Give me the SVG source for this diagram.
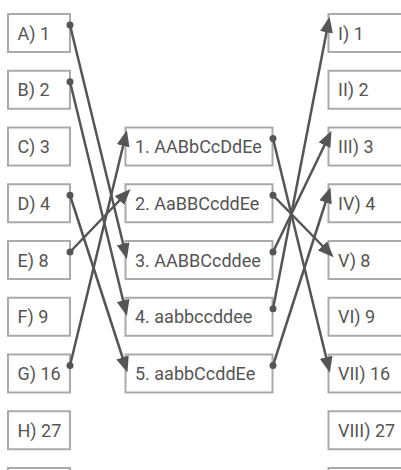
<svg xmlns="http://www.w3.org/2000/svg" width="401" height="470" viewBox="0 0 401 470">
<style>
.box{fill:#fff;stroke:#aaa;stroke-width:2}
.lbl{font-family:Roboto,"Liberation Sans",sans-serif;font-size:18px;fill:#555}
.con{stroke:#555;stroke-width:2.5;fill:none;marker-start:url(#dot);marker-end:url(#arr)}
</style>
<defs>
<marker id="arr" markerUnits="userSpaceOnUse" markerWidth="16" markerHeight="13" refX="8" refY="6.5" orient="auto"><path d="M0,0 L16,6.5 L0,13 z" fill="#555"/></marker>
<marker id="dot" markerUnits="userSpaceOnUse" markerWidth="8" markerHeight="8" refX="4" refY="4"><circle cx="4" cy="4" r="3.5" fill="#555"/></marker>
</defs>
<rect width="401" height="470" fill="#fff"/>
<g id="left">
<g id="nA"><rect class="box" x="8" y="14" width="62" height="38"/><text class="lbl" x="17.5" y="39.5">A) 1</text></g>
<g id="nB"><rect class="box" x="8" y="70.75" width="62" height="38"/><text class="lbl" x="17.5" y="96.25">B) 2</text></g>
<g id="nC"><rect class="box" x="8" y="127.5" width="62" height="38"/><text class="lbl" x="17.5" y="153">C) 3</text></g>
<g id="nD"><rect class="box" x="8" y="184.25" width="62" height="38"/><text class="lbl" x="17.5" y="209.75">D) 4</text></g>
<g id="nE"><rect class="box" x="8" y="241" width="62" height="38"/><text class="lbl" x="17.5" y="266.5">E) 8</text></g>
<g id="nF"><rect class="box" x="8" y="297.75" width="62" height="38"/><text class="lbl" x="17.5" y="323.25">F) 9</text></g>
<g id="nG"><rect class="box" x="8" y="354.5" width="62" height="38"/><text class="lbl" x="17.5" y="380">G) 16</text></g>
<g id="nH"><rect class="box" x="8" y="411.25" width="62" height="38"/><text class="lbl" x="17.5" y="436.75">H) 27</text></g>
<g id="nL9"><rect class="box" x="8" y="468" width="62" height="38"/></g>
</g>
<g id="middle">
<g id="m1"><rect class="box" x="125.5" y="127.5" width="147" height="38"/><text class="lbl" x="135" y="153">1. AABbCcDdEe</text></g>
<g id="m2"><rect class="box" x="125.5" y="184.25" width="147" height="38"/><text class="lbl" x="135" y="209.75">2. AaBBCcddEe</text></g>
<g id="m3"><rect class="box" x="125.5" y="241" width="147" height="38"/><text class="lbl" x="135" y="266.5">3. AABBCcddee</text></g>
<g id="m4"><rect class="box" x="125.5" y="297.75" width="147" height="38"/><text class="lbl" x="135" y="323.25">4. aabbccddee</text></g>
<g id="m5"><rect class="box" x="125.5" y="354.5" width="147" height="38"/><text class="lbl" x="135" y="380">5. aabbCcddEe</text></g>
</g>
<g id="right">
<g id="r1"><rect class="box" x="328.5" y="14" width="100" height="38"/><text class="lbl" x="338" y="39.5">I) 1</text></g>
<g id="r2"><rect class="box" x="328.5" y="70.75" width="100" height="38"/><text class="lbl" x="338" y="96.25">II) 2</text></g>
<g id="r3"><rect class="box" x="328.5" y="127.5" width="100" height="38"/><text class="lbl" x="338" y="153">III) 3</text></g>
<g id="r4"><rect class="box" x="328.5" y="184.25" width="100" height="38"/><text class="lbl" x="338" y="209.75">IV) 4</text></g>
<g id="r5"><rect class="box" x="328.5" y="241" width="100" height="38"/><text class="lbl" x="338" y="266.5">V) 8</text></g>
<g id="r6"><rect class="box" x="328.5" y="297.75" width="100" height="38"/><text class="lbl" x="338" y="323.25">VI) 9</text></g>
<g id="r7"><rect class="box" x="328.5" y="354.5" width="100" height="38"/><text class="lbl" x="338" y="380">VII) 16</text></g>
<g id="r8"><rect class="box" x="328.5" y="411.25" width="100" height="38"/><text class="lbl" x="338" y="436.75">VIII) 27</text></g>
<g id="r9"><rect class="box" x="328.5" y="468" width="100" height="38"/></g>
</g>
<g id="connectors">
<line class="con" x1="70" y1="25" x2="125" y2="251.5"/>
<line class="con" x1="70" y1="81.75" x2="125" y2="308.25"/>
<line class="con" x1="70" y1="195.25" x2="125" y2="365"/>
<line class="con" x1="70" y1="252" x2="125" y2="194.75"/>
<line class="con" x1="70" y1="365.5" x2="125" y2="138"/>
<line class="con" x1="273" y1="138.5" x2="328" y2="365"/>
<line class="con" x1="273" y1="195.25" x2="328" y2="251.5"/>
<line class="con" x1="273" y1="252" x2="328" y2="138"/>
<line class="con" x1="273" y1="308.75" x2="328" y2="24.5"/>
<line class="con" x1="273" y1="365.5" x2="328" y2="194.75"/>
</g>
</svg>
